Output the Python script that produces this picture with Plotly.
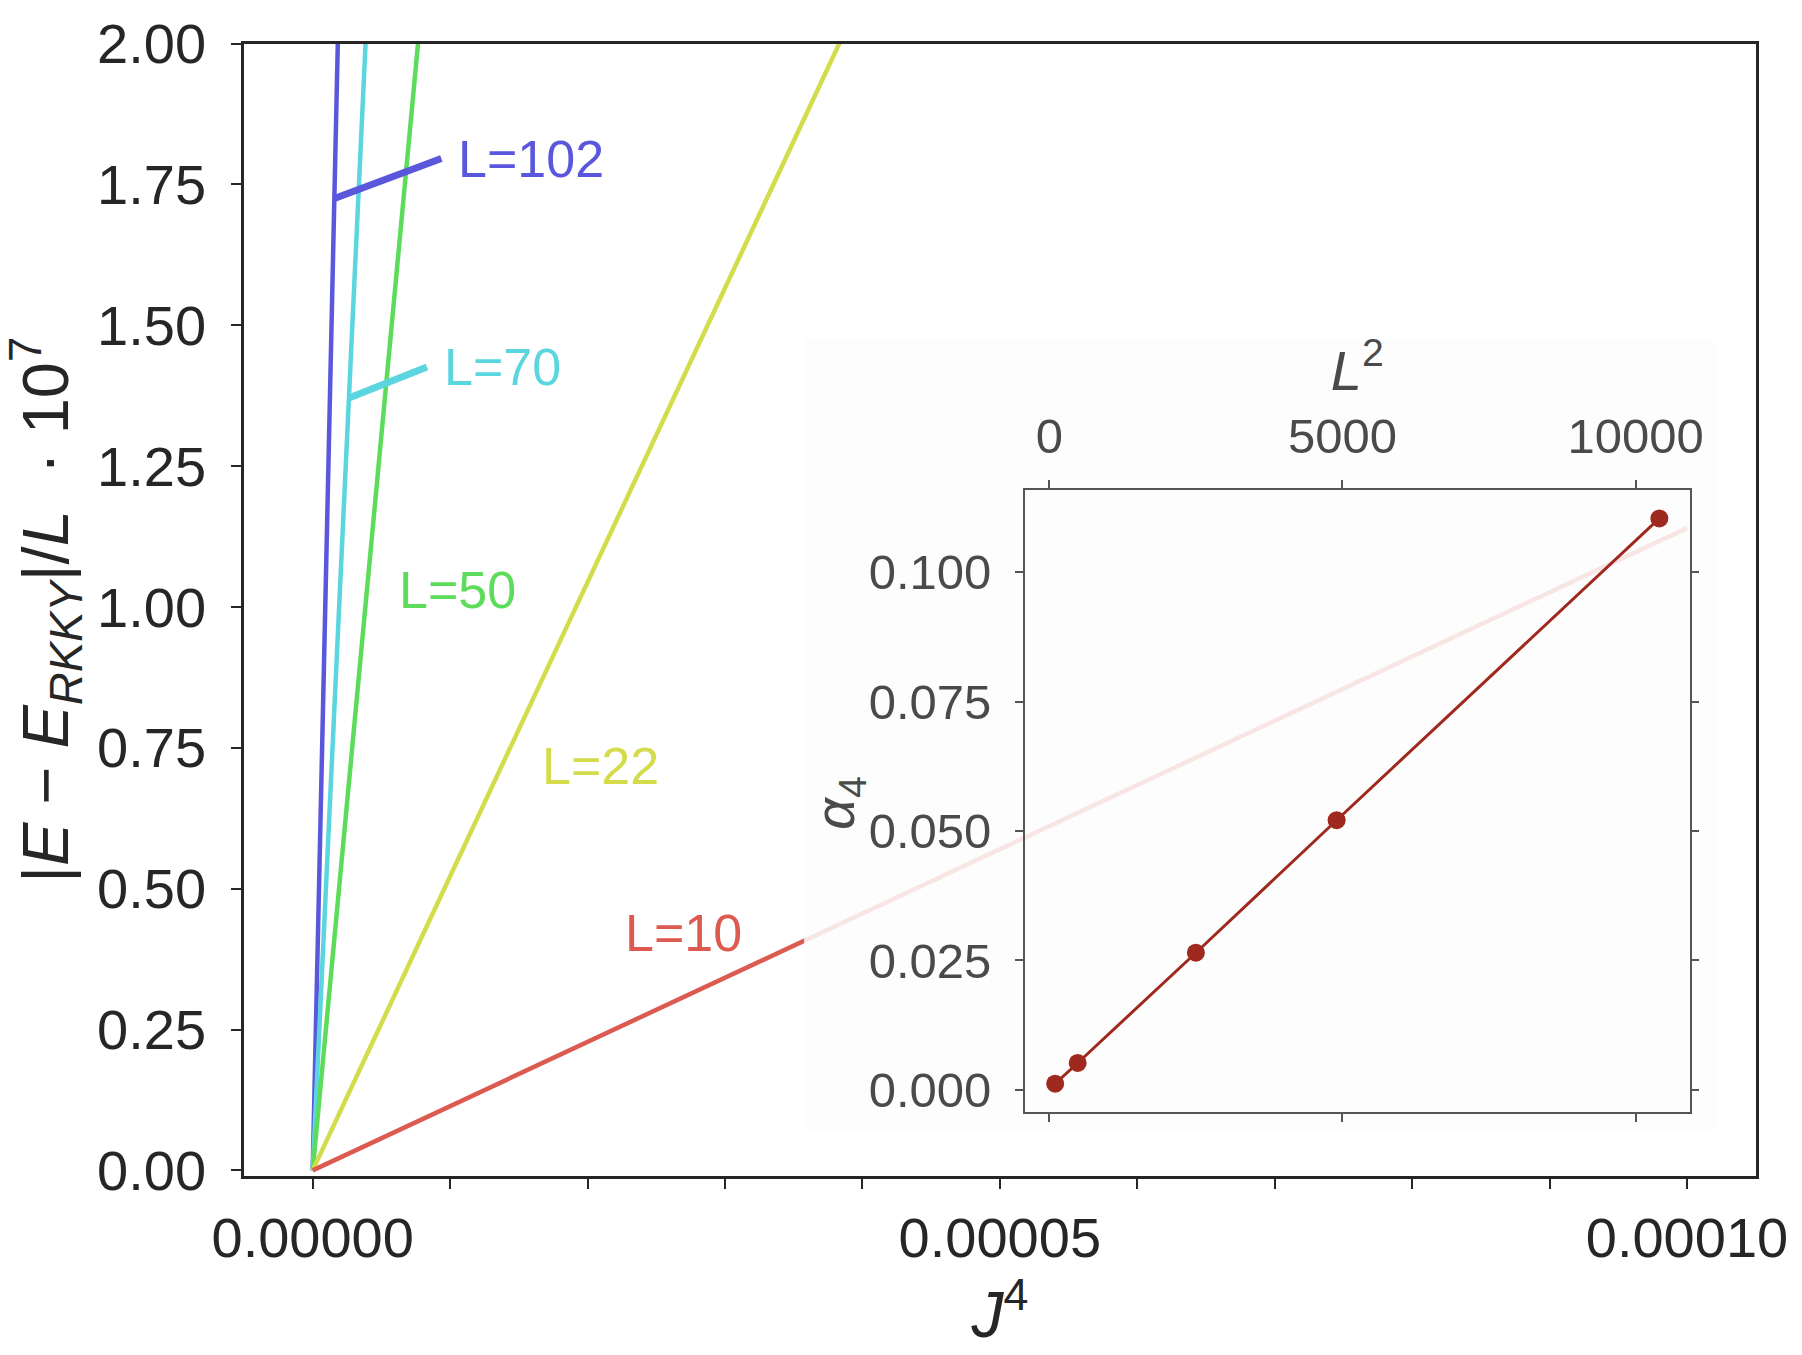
import plotly.graph_objects as go

# ---------------- data ----------------
L_labels = ["L=10", "L=22", "L=50", "L=70", "L=102"]
line_colors = ["#dc5a50", "#d4dc4c", "#5ddc5c", "#5bd6df", "#5b57dd"]
J4_start = [0.0, 0.0, 0.0, 0.0, 0.0]
J4_end = [1.0e-4, 1.0e-4, 1.0e-4, 1.0e-4, 1.0e-4]
dE_start = [0.0, 0.0, 0.0, 0.0, 0.0]
dE_end = [1.14, 5.22, 26.1, 52.0, 109.5]

# inset
L_squared = [100, 484, 2500, 4900, 10404]
alpha4 = [0.0012, 0.0052, 0.0265, 0.0521, 0.1104]

main_xticks = [0, 1e-5, 2e-5, 3e-5, 4e-5, 5e-5, 6e-5, 7e-5, 8e-5, 9e-5, 1e-4]
main_xticktext = ["0.00000", "", "", "", "", "0.00005", "", "", "", "", "0.00010"]

# label placement (data coords of text anchor / leader end)
label_x = [2.26e-5, 1.655e-5, 0.6125e-5, 0.2636e-5, 0.1575e-5]
label_y = [0.422, 0.7175, 1.031, 1.371, 1.725]
label_leader = [False, False, False, True, True]
leader_ax = [0, 0, 0, 78, 107]
leader_ay = [0, 0, 0, -31, -40]

FONT = "Liberation Sans, Arial, sans-serif"
DARK = "#262626"
INSET_GRAY = "#4a4a4a"

fig = go.Figure()

# main lines (draw L=102 first, L=10 last)
for i in reversed(range(len(L_labels))):
    fig.add_trace(go.Scatter(
        x=[J4_start[i], J4_end[i]], y=[dE_start[i], dE_end[i]],
        mode="lines", line=dict(color=line_colors[i], width=4.5),
        xaxis="x", yaxis="y", showlegend=False, hoverinfo="skip"))

# invisible trace to create fade-region subplot
fig.add_trace(go.Scatter(x=[0.5], y=[0.5], mode="markers", marker=dict(opacity=0),
                         xaxis="x2", yaxis="y2", showlegend=False, hoverinfo="skip"))

# inset data
fig.add_trace(go.Scatter(
    x=L_squared, y=alpha4, mode="lines+markers",
    line=dict(color="#a0291f", width=3),
    marker=dict(color="#a0291f", size=18),
    xaxis="x3", yaxis="y3", showlegend=False))

# fade patch behind inset (drawn in x2y2 subplot, above main traces)
fig.add_shape(type="rect", xref="x2", yref="y2", x0=0, x1=1, y0=0, y1=1,
              layer="below", line=dict(width=0),
              fillcolor="rgba(253,253,253,0.86)")

annotations = []
for i in range(len(L_labels)):
    if label_leader[i]:
        annotations.append(dict(
            x=label_x[i], y=label_y[i], xref="x", yref="y",
            text=L_labels[i], showarrow=True, arrowhead=0, arrowwidth=7,
            arrowcolor=line_colors[i], ax=leader_ax[i], ay=leader_ay[i],
            xanchor="left", yanchor="middle", borderpad=16,
            font=dict(family=FONT, size=52, color=line_colors[i])))
    else:
        annotations.append(dict(
            x=label_x[i], y=label_y[i], xref="x", yref="y",
            text=L_labels[i], showarrow=False, xanchor="left", yanchor="middle",
            font=dict(family=FONT, size=52, color=line_colors[i])))

# inset y-axis title as annotation (placed close to tick labels)
annotations.append(dict(
    x=838 / 1802, y=1 - 803 / 1355, xref="paper", yref="paper",
    text="<i>α</i><sub>4</sub>", showarrow=False, textangle=-90,
    xanchor="center", yanchor="middle",
    font=dict(family=FONT, size=56, color=INSET_GRAY)))

fig.update_layout(
    template="none",
    width=1802, height=1355,
    margin=dict(l=0, r=0, t=0, b=0, autoexpand=False),
    paper_bgcolor="white", plot_bgcolor="rgba(0,0,0,0)",
    font=dict(family=FONT, color=DARK),
    annotations=annotations,
    xaxis=dict(
        domain=[0.1354, 0.9743], range=[-0.5e-5, 10.5e-5], anchor="y", automargin=False,
        tickvals=main_xticks, ticktext=main_xticktext,
        ticks="outside", ticklen=10, tickwidth=2, tickcolor=DARK,
        showline=True, linewidth=2.5, linecolor=DARK, mirror=True,
        showgrid=False, zeroline=False,
        tickfont=dict(size=56, color=DARK, family=FONT), ticklabelstandoff=1,
        title=dict(text="<i>J</i><sup>4</sup>", font=dict(size=64, color=DARK, family=FONT), standoff=22),
    ),
    yaxis=dict(
        domain=[0.1321, 0.9678], range=[-0.01, 2.0], anchor="x", automargin=False,
        tick0=0, dtick=0.25, tickformat=".2f",
        ticks="outside", ticklen=10, tickwidth=2, tickcolor=DARK,
        showline=True, linewidth=2.5, linecolor=DARK, mirror=True,
        showgrid=False, zeroline=False,
        tickfont=dict(size=56, color=DARK, family=FONT), ticklabelstandoff=14,
        title=dict(text="|<i>E</i> − <i>E</i><sub><i>RKKY</i></sub>|/<i>L</i>  · 10<sup>7</sup>",
                   font=dict(size=65, color=DARK, family=FONT), standoff=10),
    ),
    xaxis2=dict(domain=[0.4462, 0.9528], range=[0, 1], anchor="y2", visible=False, automargin=False),
    yaxis2=dict(domain=[0.1646, 0.7498], range=[0, 1], anchor="x2", visible=False, automargin=False),
    xaxis3=dict(
        domain=[0.5688, 0.9376], range=[-415, 10919], anchor="y3", side="top", automargin=False,
        tickvals=[0, 5000, 10000], tickformat="d",
        ticks="outside", ticklen=8, tickwidth=1.5, tickcolor="#555555",
        showline=True, linewidth=1.8, linecolor="#555555", mirror="ticks",
        showgrid=False, zeroline=False,
        tickfont=dict(size=49, color=INSET_GRAY, family=FONT), ticklabelstandoff=7,
        title=dict(text="<i>L</i><sup>2</sup>", font=dict(size=56, color=INSET_GRAY, family=FONT), standoff=1),
    ),
    yaxis3=dict(
        domain=[0.1796, 0.6384], range=[-0.0042, 0.1159], anchor="x3", automargin=False,
        tick0=0, dtick=0.025, tickformat=".3f",
        ticks="outside", ticklen=8, tickwidth=1.5, tickcolor="#555555",
        showline=True, linewidth=1.8, linecolor="#555555", mirror="ticks",
        showgrid=False, zeroline=False,
        tickfont=dict(size=49, color=INSET_GRAY, family=FONT), ticklabelstandoff=14,
    ),
)

fig.write_html("out.html")
